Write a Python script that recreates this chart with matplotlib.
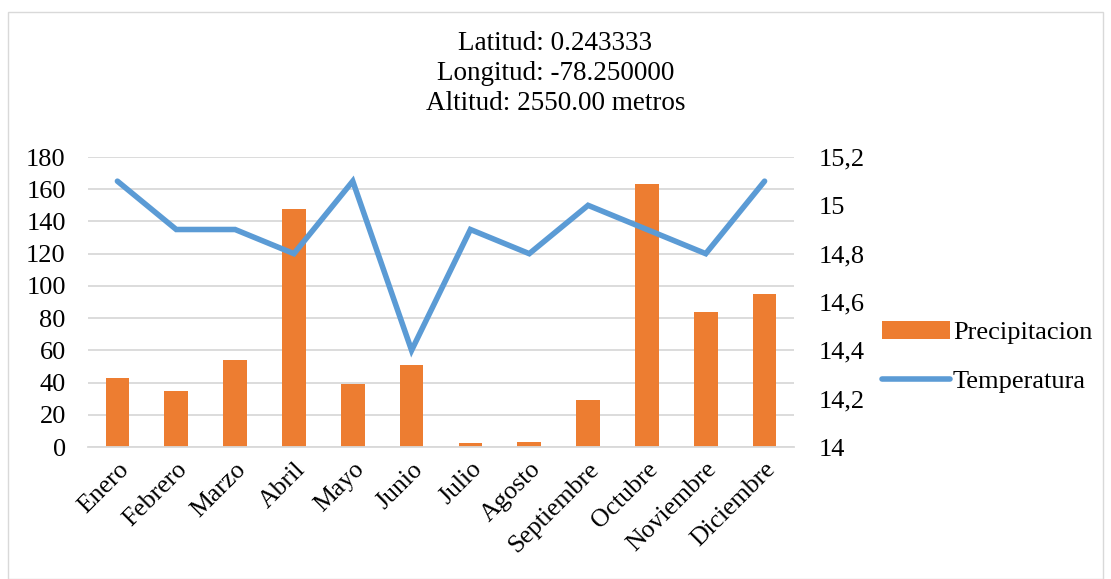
import matplotlib.pyplot as plt
from matplotlib.patches import Rectangle
import numpy as np

plt.rcParams['font.family'] = ['Liberation Serif', 'DejaVu Serif']

meses = ['Enero', 'Febrero', 'Marzo', 'Abril', 'Mayo', 'Junio', 'Julio',
         'Agosto', 'Septiembre', 'Octubre', 'Noviembre', 'Diciembre']
precipitacion = [43, 35, 54, 148, 39, 51, 2.5, 3.3, 29, 163, 83.5, 95]
temperatura = [15.1, 14.9, 14.9, 14.8, 15.1, 14.4, 14.9, 14.8, 15.0, 14.9, 14.8, 15.1]

fig = plt.figure(figsize=(11.11, 5.79), dpi=100)
ax = fig.add_axes([88 / 1111, 1 - 447 / 579, (794 - 88) / 1111, (447 - 157) / 579])
ax2 = ax.twinx()

x = np.arange(len(meses))
bars = ax.bar(x, precipitacion, width=0.4, color='#ed7d31', label='Precipitacion', zorder=2)
line, = ax2.plot(x, temperatura, color='#5b9bd5', linewidth=4, solid_capstyle='round',
                 solid_joinstyle='miter', label='Temperatura')

ax.set_xlim(-0.5, len(meses) - 0.5)
ax.set_ylim(0, 180)
ax.set_yticks(np.arange(0, 181, 20))
ax2.set_ylim(14, 15.2)
ax2.set_yticks([14, 14.2, 14.4, 14.6, 14.8, 15, 15.2])
ax2.set_yticklabels(['14', '14,2', '14,4', '14,6', '14,8', '15', '15,2'])

ax.grid(axis='y', color='#d9d9d9', linewidth=1.3, zorder=0)
ax.set_axisbelow(True)
for a in (ax, ax2):
    for s in a.spines.values():
        s.set_visible(False)
    a.tick_params(length=0, labelsize=19, colors='black')
ax.spines['bottom'].set_visible(True)
ax.spines['bottom'].set_color('#d9d9d9')
ax.spines['bottom'].set_linewidth(1.3)
ax.tick_params(axis='y', pad=16)
ax2.tick_params(axis='y', pad=18)

ax.set_xticks(x)
ax.set_xticklabels(meses, rotation=45, ha='right', rotation_mode='anchor', fontsize=18.5)
ax.tick_params(axis='x', pad=8)

fig.text(0.5, 1 - 44 / 579, 'Latitud: 0.243333', ha='center', va='center', fontsize=19.5)
fig.text(0.5, 1 - 74 / 579, 'Longitud: -78.250000', ha='center', va='center', fontsize=19.5)
fig.text(0.5, 1 - 104 / 579, 'Altitud: 2550.00 metros', ha='center', va='center', fontsize=19.5)

fig.legend(handles=[bars, line], loc='center left', bbox_to_anchor=(858 / 1111, 1 - 357 / 579),
           frameon=False, fontsize=19, handlelength=2.6, handletextpad=0.1, labelspacing=0.95)

fig.add_artist(Rectangle((8 / 1111, 0), 1 - 16 / 1111, 1 - 12 / 579, transform=fig.transFigure,
                         fill=False, edgecolor='#d9d9d9', linewidth=1))

fig.savefig('out.png', dpi=100)
